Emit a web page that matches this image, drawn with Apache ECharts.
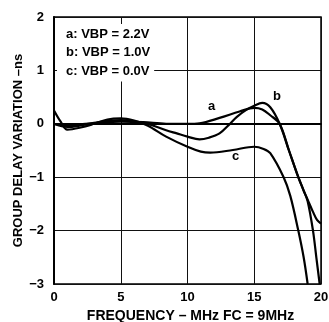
<!DOCTYPE html>
<html>
<head>
<meta charset="utf-8">
<script src="https://cdn.jsdelivr.net/npm/echarts@6/dist/echarts.min.js"></script>
<style>
    html, body { margin: 0; padding: 0; background: #fff; }
    #chart { width: 329px; height: 322px; }
</style>
</head>
<body>
<div id="chart"></div>
<script>
// frequency (MHz) / group delay variation (ns)
const curveA = [
    [0, 0], [1, -0.03], [2, -0.01], [3, 0.01], [5, 0.04], [6.7, 0.03], [8.4, 0], [10, 0],
    [10.9, 0.01], [12.4, 0.11], [13.9, 0.23], [15, 0.3], [15.6, 0.27], [16.2, 0.16],
    [16.9, 0], [17.6, -0.5], [18.3, -1], [18.7, -1.25], [19, -1.45], [19.4, -2], [19.65, -2.5], [19.9, -3]
];
const curveB = [
    [0, 0], [1, -0.06], [2, -0.03], [3, 0.02], [5, 0.07], [6.7, 0.02], [8.4, -0.12], [9.2, -0.18],
    [10, -0.24], [10.9, -0.29], [11.6, -0.26], [12.4, -0.18], [13.1, -0.02], [13.7, 0.13], [14.4, 0.26],
    [15, 0.34], [15.6, 0.39], [16.2, 0.31], [16.9, 0], [17.6, -0.5], [18.3, -1], [18.7, -1.25], [19, -1.42],
    [19.4, -1.65], [19.7, -1.8], [20, -1.87]
];
const curveC = [
    [0, 0.25], [0.5, 0.04], [1, -0.11], [2, -0.07], [3, 0], [4, 0.08], [5, 0.1], [6, 0.06],
    [7, -0.03], [8.4, -0.24], [10, -0.43], [11, -0.52], [11.7, -0.54], [13.4, -0.49], [15, -0.43],
    [15.7, -0.47], [16.2, -0.55], [17.2, -1], [17.7, -1.35], [18.3, -2], [18.7, -2.5], [19, -3]
];
const seriesNames = ['a: VBP = 2.2V', 'b: VBP = 1.0V', 'c: VBP = 0.0V'];
const curveTags = ['a', 'b', 'c'];
const tagSpots = [[11.8, 0.32], [16.7, 0.52], [13.6, -0.62]];

const font = 'Liberation Sans, Arial, sans-serif';
const chart = echarts.init(document.getElementById('chart'), null, { renderer: 'canvas' });

const axisText = { color: '#000', fontFamily: font, fontWeight: 'bold', fontSize: 13 };

const chartOption = {
    animation: false,
    backgroundColor: '#fff',
    grid: {
        left: 54, right: 8, top: 17, bottom: 38,
        outerBoundsMode: 'none',
        containLabel: false,
        show: true, borderColor: '#000', borderWidth: 1.5
    },
    legend: {
        data: seriesNames,
        orient: 'vertical',
        left: 57, top: 24,
        icon: 'none',
        itemWidth: 0,
        itemGap: 5,
        padding: [3, 4, 4, 4],
        backgroundColor: '#fff',
        selectedMode: false,
        textStyle: { color: '#000', fontFamily: font, fontWeight: 'bold', fontSize: 13 }
    },
    xAxis: {
        type: 'value',
        min: 0, max: 20, interval: 5,
        axisLine: { show: true, lineStyle: { color: '#000', width: 2 } },
        axisTick: { show: false },
        axisLabel: Object.assign({ margin: 7 }, axisText),
        splitLine: { show: true, lineStyle: { color: '#111', width: 1 } },
        name: 'FREQUENCY – MHz FC = 9MHz',
        nameLocation: 'middle',
        nameGap: 25,
        nameTextStyle: Object.assign({}, axisText, { fontSize: 14, padding: [0, 0, 0, 6] })
    },
    yAxis: {
        type: 'value',
        min: -3, max: 2, interval: 1,
        axisLine: { show: true, lineStyle: { color: '#000', width: 2 } },
        axisTick: { show: false },
        axisLabel: Object.assign({ margin: 10, formatter: v => String(v).replace('-', '\u2212') }, axisText),
        splitLine: { show: true, lineStyle: { color: '#111', width: 1 } },
        name: 'GROUP DELAY VARIATION \u2013ns',
        nameLocation: 'middle',
        nameGap: 29,
        nameMoveOverlap: false,
        nameTextStyle: Object.assign({}, axisText, { fontSize: 13 })
    },
    series: [curveA, curveB, curveC].map((d, i) => ({
        name: seriesNames[i],
        type: 'line',
        data: d,
        smooth: 0.35,
        symbol: 'none',
        clip: true,
        lineStyle: { color: '#000', width: 2.2 },
        itemStyle: { color: '#000' },
        markPoint: {
            symbol: 'circle',
            symbolSize: 0,
            data: [{ coord: tagSpots[i] }],
            label: {
                show: true, position: 'inside', formatter: curveTags[i],
                color: '#000', fontFamily: font, fontWeight: 'bold', fontSize: 13
            }
        }
    }))
};

chart.setOption(chartOption);
</script>
</body>
</html>
